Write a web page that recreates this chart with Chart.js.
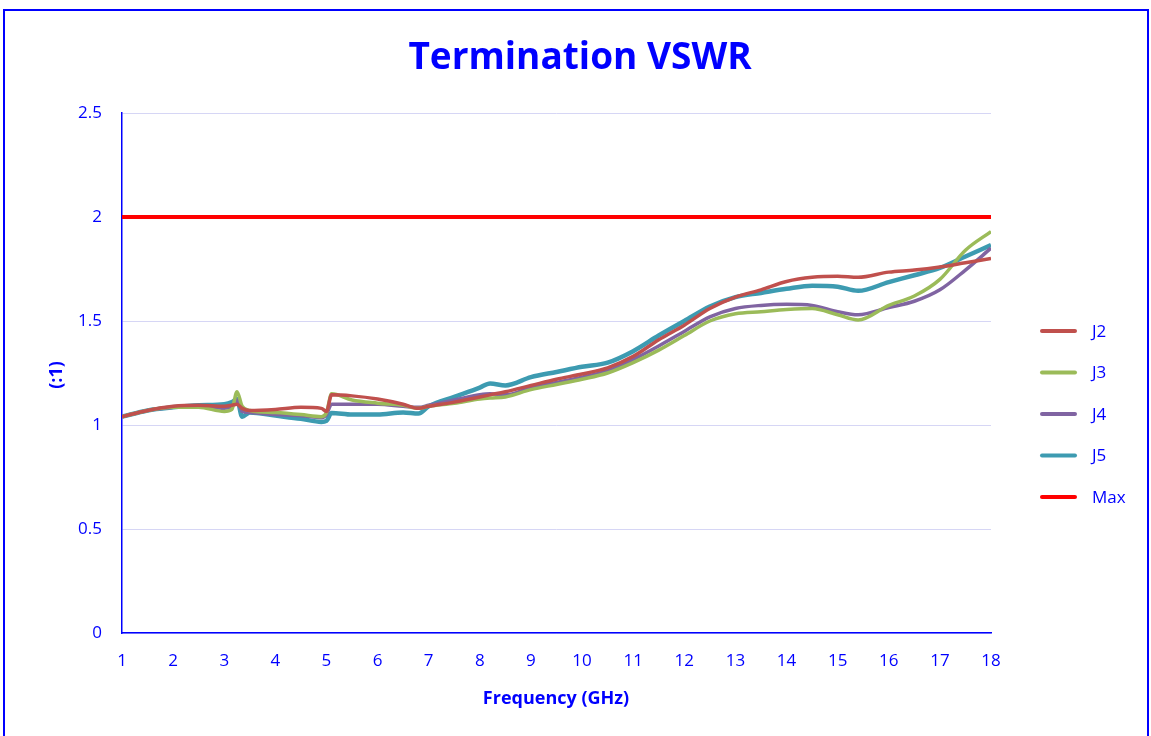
<!DOCTYPE html>
<html>
<head>
<meta charset="utf-8">
<script src="https://cdn.jsdelivr.net/npm/chart.js@4.4.1/dist/chart.umd.min.js"></script>
<style>
  html, body { margin: 0; padding: 0; background: #fff; }
  #wrap { width: 1151px; height: 736px; position: relative; }
</style>
</head>
<body>
<div id="wrap"><canvas id="vswr" width="1151" height="736"></canvas></div>
<script>
// frequency points (GHz)
var freq = [1, 1.5, 2, 2.5, 3, 3.15, 3.25, 3.35, 3.5, 4, 4.5, 4.9, 5, 5.1, 5.5, 6, 6.5, 6.8, 7, 7.5, 8, 8.2, 8.5, 9, 9.5, 10, 10.5, 11, 11.5, 12, 12.5, 13, 13.5, 14, 14.5, 15, 15.4, 16, 16.5, 17, 17.5, 18];

var j2 = [1.04, 1.07, 1.09, 1.095, 1.09, 1.095, 1.10, 1.08, 1.07, 1.075, 1.085, 1.08, 1.065, 1.145, 1.14, 1.125, 1.10, 1.08, 1.09, 1.11, 1.135, 1.145, 1.16, 1.19, 1.22, 1.245, 1.275, 1.33, 1.41, 1.48, 1.56, 1.615, 1.65, 1.69, 1.71, 1.715, 1.71, 1.735, 1.745, 1.76, 1.78, 1.80];
var j3 = [1.04, 1.07, 1.085, 1.085, 1.065, 1.075, 1.16, 1.09, 1.07, 1.06, 1.05, 1.04, 1.06, 1.15, 1.12, 1.105, 1.095, 1.08, 1.09, 1.105, 1.125, 1.13, 1.135, 1.17, 1.195, 1.22, 1.25, 1.30, 1.36, 1.43, 1.50, 1.535, 1.545, 1.555, 1.56, 1.53, 1.505, 1.575, 1.62, 1.70, 1.84, 1.93];
var j4 = [1.04, 1.07, 1.085, 1.09, 1.08, 1.09, 1.12, 1.065, 1.06, 1.05, 1.045, 1.035, 1.05, 1.10, 1.10, 1.10, 1.09, 1.085, 1.095, 1.12, 1.145, 1.15, 1.145, 1.18, 1.205, 1.23, 1.26, 1.315, 1.38, 1.45, 1.52, 1.56, 1.575, 1.58, 1.575, 1.545, 1.53, 1.565, 1.595, 1.65, 1.745, 1.85];
var j5 = [1.04, 1.07, 1.085, 1.095, 1.10, 1.11, 1.125, 1.04, 1.06, 1.045, 1.03, 1.015, 1.02, 1.058, 1.05, 1.05, 1.06, 1.055, 1.09, 1.135, 1.18, 1.20, 1.19, 1.23, 1.255, 1.28, 1.30, 1.355, 1.43, 1.50, 1.57, 1.615, 1.635, 1.655, 1.67, 1.665, 1.645, 1.687, 1.72, 1.755, 1.81, 1.865];
var maxLimit = 2;

var xTicks = [1, 2, 3, 4, 5, 6, 7, 8, 9, 10, 11, 12, 13, 14, 15, 16, 17, 18];
var yTicks = [0, 0.5, 1, 1.5, 2, 2.5];

var BLUE = '#0000FF';

function pts(ys) {
    return freq.map(function (f, i) { return { x: f, y: ys[i] }; });
}

// frame, title, axis titles and legend drawn by hand
var decor = {
    id: 'decor',
    beforeDraw: function (chart) {
        var c = chart.ctx;
        c.save();
        c.strokeStyle = BLUE;
        c.lineWidth = 2;
        c.strokeRect(4, 10, 1144, 740);
        c.restore();
    },
    afterDraw: function (chart) {
        var c = chart.ctx;
        c.save();
        c.fillStyle = BLUE;
        c.textAlign = 'center';
        c.textBaseline = 'middle';
        c.font = 'bold 37px "Open Sans"';
        c.fillText('Termination VSWR', 580, 58);
        c.font = 'bold 18px "Open Sans"';
        c.fillText('Frequency (GHz)', 556, 699);
        c.translate(57, 375);
        c.rotate(-Math.PI / 2);
        c.fillText('(:1)', 0, 0);
        c.restore();

        c.save();
        c.font = '17px "Open Sans"';
        c.textBaseline = 'middle';
        chart.data.datasets.forEach(function (ds, i) {
            var y = 331 + i * 41.5;
            c.strokeStyle = ds.borderColor;
            c.lineWidth = 4;
            c.lineCap = 'round';
            c.beginPath();
            c.moveTo(1042, y);
            c.lineTo(1075, y);
            c.stroke();
            c.fillStyle = BLUE;
            c.fillText(ds.label, 1092, y + 1);
        });
        c.restore();
    }
};

window.onload = function () {
    var ctx = document.getElementById('vswr').getContext('2d');
    new Chart(ctx, {
        type: 'line',
        data: {
            datasets: [
                { label: 'J2', data: pts(j2), borderColor: '#C0504D', borderWidth: 3.5 },
                { label: 'J3', data: pts(j3), borderColor: '#9BBB59', borderWidth: 3.5 },
                { label: 'J4', data: pts(j4), borderColor: '#8064A2', borderWidth: 3.5 },
                { label: 'J5', data: pts(j5), borderColor: '#3D9BB1', borderWidth: 4.5 },
                { label: 'Max', data: [{ x: 1, y: maxLimit }, { x: 18, y: maxLimit }], borderColor: '#FF0000', borderWidth: 4 }
            ]
        },
        options: {
            responsive: false,
            animation: false,
            cubicInterpolationMode: 'monotone',
            elements: { point: { radius: 0 } },
            layout: { padding: { top: 113, right: 160, left: 0, bottom: 0 } },
            plugins: { legend: { display: false }, title: { display: false }, tooltip: { enabled: false } },
            scales: {
                x: {
                    type: 'linear',
                    min: 1, max: 18,
                    afterBuildTicks: function (s) { s.ticks = xTicks.map(function (v) { return { value: v }; }); },
                    afterFit: function (s) { s.height = 103; },
                    grid: { display: false, drawTicks: false },
                    border: { color: BLUE, width: 1.5 },
                    ticks: { color: BLUE, font: { family: 'Open Sans', size: 17 }, padding: 18, maxRotation: 0, autoSkip: false }
                },
                y: {
                    min: 0, max: 2.5,
                    afterBuildTicks: function (s) { s.ticks = yTicks.map(function (v) { return { value: v }; }); },
                    afterFit: function (s) { s.width = 122; },
                    grid: { color: '#D6D6F5', lineWidth: 1, drawTicks: false },
                    border: { color: BLUE, width: 1.5 },
                    ticks: {
                        color: BLUE, font: { family: 'Open Sans', size: 17 }, padding: 20,
                        callback: function (v) { return String(v); }
                    }
                }
            }
        },
        plugins: [decor]
    });
};
</script>
</body>
</html>
